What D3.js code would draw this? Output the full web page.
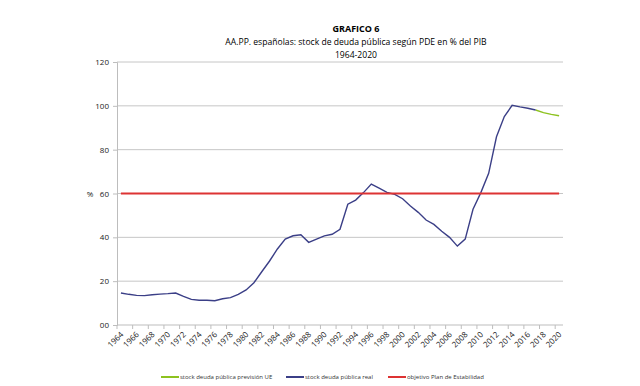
<!DOCTYPE html>
<html>
<head>
<meta charset="utf-8">
<script src="https://cdn.jsdelivr.net/npm/d3@7"></script>
<style>
  body { margin: 0; background: #fff; }
  svg { display: block; font-family: "Open Sans", "Liberation Sans", sans-serif; }
</style>
</head>
<body>
<script>
//years 1964-2020
var years = d3.range(1964, 2021);

//stock deuda publica real (1964-2017)
var realDebt = [14.6, 14.0, 13.5, 13.4, 13.8, 14.1, 14.3, 14.6, 13.1, 11.7,
    11.3, 11.3, 11.1, 12.0, 12.5, 14.0, 16.0, 19.3, 24.3, 29.2,
    34.7, 39.2, 40.7, 41.2, 37.7, 39.2, 40.7, 41.4, 43.7, 55.1,
    57.0, 60.4, 64.3, 62.4, 60.5, 59.6, 57.6, 54.3, 51.4, 47.9,
    45.9, 42.8, 40.0, 36.0, 39.2, 52.8, 60.4, 69.2, 85.9, 95.1,
    100.2, 99.5, 98.9, 98.1];

//stock deuda publica prevision UE (2017-2020)
var forecastYears = [2017, 2018, 2019, 2020];
var forecastDebt = [98.1, 96.9, 96.1, 95.5];

//objetivo Plan de Estabilidad
var target = 60;

var yTicks = [0, 20, 40, 60, 80, 100, 120];
var titleLines = ["GRAFICO 6",
    "AA.PP. españolas: stock de deuda pública según PDE en % del PIB",
    "1964-2020"];
var legendItems = [
    {label: "stock deuda pública  previsión UE", color: "#8dc21f"},
    {label: "stock deuda pública real", color: "#3b3f87"},
    {label: "objetivo Plan de Estabilidad", color: "#dd3333"}
];

window.onload = drawChart();

function drawChart(){

    var width = 640, height = 386;
    var plotLeft = 117, plotRight = 563, plotTop = 62, plotBottom = 325;

    var svg = d3.select("body").append("svg")
        .attr("width", width)
        .attr("height", height);

    var x = d3.scaleBand()
        .domain(years)
        .range([plotLeft, plotRight]);

    var y = d3.scaleLinear()
        .domain([0, 120])
        .range([plotBottom, plotTop]);

    function cx(yr){ return x(yr) + x.bandwidth() / 2; }

    //title
    svg.selectAll(".title")
        .data(titleLines)
        .enter()
        .append("text")
        .attr("x", 356)
        .attr("y", function(d, i){ return 32 + i * 13; })
        .attr("text-anchor", "middle")
        .style("font-size", function(d, i){ return i == 0 ? "9px" : "8.6px"; })
        .style("font-weight", function(d, i){ return i == 0 ? "bold" : "normal"; })
        .style("fill", "#000")
        .text(function(d){ return d; });

    //gridlines
    svg.selectAll(".grid")
        .data(yTicks.slice(1))
        .enter()
        .append("line")
        .attr("x1", plotLeft).attr("x2", plotRight)
        .attr("y1", function(d){ return y(d); })
        .attr("y2", function(d){ return y(d); })
        .style("stroke", "#c6c6c6")
        .style("stroke-width", "1px");

    //y axis
    var yAxis = d3.axisLeft(y)
        .tickValues(yTicks)
        .tickSize(4)
        .tickPadding(4)
        .tickFormat(function(d){ return d == 0 ? "00" : d; });

    var gy = svg.append("g")
        .attr("transform", "translate(" + plotLeft + ",0)")
        .call(yAxis);
    gy.select(".domain").style("stroke", "#bdbdbd");
    gy.selectAll(".tick line").style("stroke", "#bdbdbd");
    gy.selectAll(".tick text")
        .style("font-family", "'Open Sans', sans-serif")
        .style("font-size", "8px")
        .style("fill", "#222");

    svg.append("text")
        .attr("x", 90)
        .attr("y", y(60) + 3)
        .attr("text-anchor", "middle")
        .style("font-size", "8px")
        .style("fill", "#222")
        .text("%");

    //x axis line + tick marks every 2 categories
    svg.append("line")
        .attr("x1", plotLeft).attr("x2", plotRight)
        .attr("y1", plotBottom).attr("y2", plotBottom)
        .style("stroke", "#bdbdbd");

    var tickYears = years.filter(function(d, i){ return i % 2 == 0; });

    svg.selectAll(".xtick")
        .data(tickYears)
        .enter()
        .append("line")
        .attr("x1", function(d){ return x(d); })
        .attr("x2", function(d){ return x(d); })
        .attr("y1", plotBottom).attr("y2", plotBottom + 4)
        .style("stroke", "#bdbdbd");

    svg.selectAll(".xlabel")
        .data(tickYears)
        .enter()
        .append("text")
        .attr("transform", function(d){
            return "translate(" + (cx(d) + 1) + "," + (plotBottom + 8) + ") rotate(-45)";
        })
        .attr("text-anchor", "end")
        .attr("dy", "0.35em")
        .style("font-size", "8px")
        .style("fill", "#222")
        .text(function(d){ return d; });

    //lines
    var line = d3.line()
        .x(function(d){ return cx(d[0]); })
        .y(function(d){ return y(d[1]); });

    var forecastData = forecastYears.map(function(d, i){ return [d, forecastDebt[i]]; });
    var realData = realDebt.map(function(d, i){ return [years[i], d]; });
    var targetData = years.map(function(d){ return [d, target]; });

    svg.append("path")
        .datum(forecastData)
        .attr("d", line)
        .style("fill", "none")
        .style("stroke", legendItems[0].color)
        .style("stroke-width", "1.5px");

    svg.append("path")
        .datum(realData)
        .attr("d", line)
        .style("fill", "none")
        .style("stroke", legendItems[1].color)
        .style("stroke-width", "1.4px");

    svg.append("path")
        .datum(targetData)
        .attr("d", line)
        .style("fill", "none")
        .style("stroke", legendItems[2].color)
        .style("stroke-width", "1.8px");

    //legend
    var legendX = [161, 286, 388];
    var legend = svg.selectAll(".legend")
        .data(legendItems)
        .enter()
        .append("g")
        .attr("transform", function(d, i){ return "translate(" + legendX[i] + ",377)"; });

    legend.append("line")
        .attr("x1", 0).attr("x2", 18)
        .attr("y1", 0).attr("y2", 0)
        .style("stroke", function(d){ return d.color; })
        .style("stroke-width", "2px");

    legend.append("text")
        .attr("x", 19)
        .attr("dy", "0.35em")
        .style("font-size", "6px")
        .style("fill", "#333")
        .text(function(d){ return d.label; });
};
</script>
</body>
</html>
